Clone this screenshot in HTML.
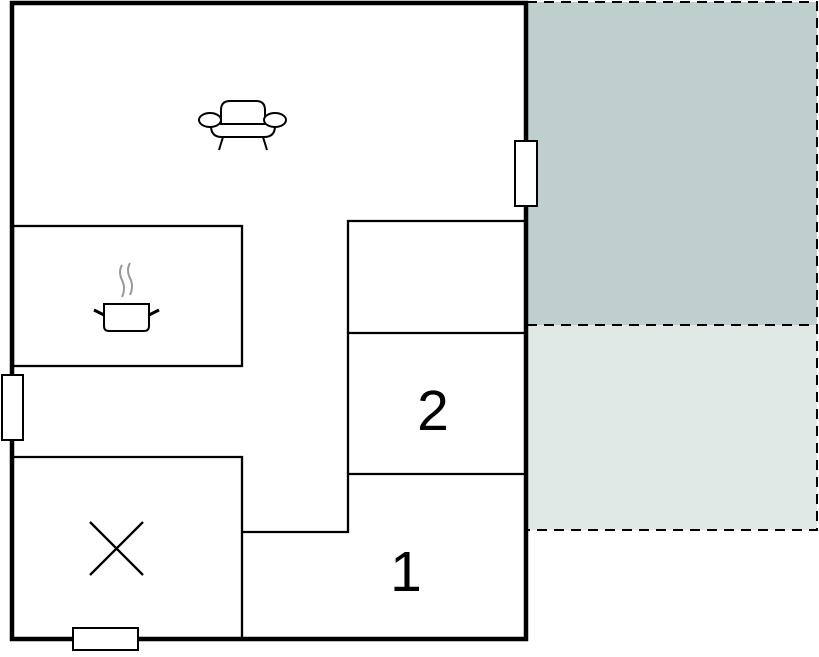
<!DOCTYPE html>
<html><head><style>body{margin:0;background:#fff}</style></head><body>
<svg width="819" height="652" viewBox="0 0 819 652" xmlns="http://www.w3.org/2000/svg">
<rect x="0" y="0" width="819" height="652" fill="#fff"/>
<rect x="527" y="2" width="290" height="323" fill="#bfcfcd"/>
<rect x="527" y="325" width="290" height="205" fill="#e1e9e7"/>
<g fill="none" stroke="#000" stroke-width="2" stroke-dasharray="10,7">
<path d="M527 2 H817 V530 H527"/>
<path d="M527 325 H817"/>
</g>
<g fill="none" stroke="#000" stroke-width="2.3">
<rect x="13" y="226" width="229" height="140"/>
<path d="M13 457 H242 V638"/>
<path d="M242 532 H348 V221 H525"/>
<path d="M348 333 H525 M348 474 H525"/>
<path d="M90 522 L143 575 M143 522 L90 575"/>
</g>
<rect x="12" y="3" width="514" height="636" fill="none" stroke="#000" stroke-width="4.5"/>
<g fill="#fff" stroke="#000" stroke-width="2">
<rect x="515" y="141" width="22" height="65"/>
<rect x="2" y="375" width="21" height="65"/>
<rect x="73" y="628" width="65" height="22"/>
</g>
<g fill="#fff" stroke="#000" stroke-width="2">
<path d="M221 125 V110 Q221 101 230 101 H256 Q265 101 265 110 V125"/>
<path d="M211 126 Q211 137 222 137 H264 Q275 137 275 126"/>
<line x1="223" y1="137" x2="219" y2="150"/><line x1="263" y1="137" x2="267" y2="150"/>
<ellipse cx="210" cy="120" rx="11" ry="7"/>
<ellipse cx="275" cy="120" rx="11" ry="7"/>
<line x1="221" y1="124" x2="264" y2="124"/>
</g>
<g fill="none" stroke="#999" stroke-width="2">
<path d="M122 265 Q118 272 122 280 Q126 288 122 297"/>
<path d="M130 263 Q126 270 130 278 Q134 286 130 295"/>
</g>
<g stroke="#000" stroke-width="2" fill="#fff">
<path d="M104 304 H149 V326 Q149 331 144 331 H109 Q104 331 104 326 Z"/>
<path d="M94 310 L104 315 M159 310 L149 315" stroke-width="3"/>
</g>
<g font-family="Liberation Sans, sans-serif" font-size="57" text-anchor="middle">
<text x="433" y="430">2</text>
<text x="406" y="591">1</text>
</g>
</svg>
</body></html>
